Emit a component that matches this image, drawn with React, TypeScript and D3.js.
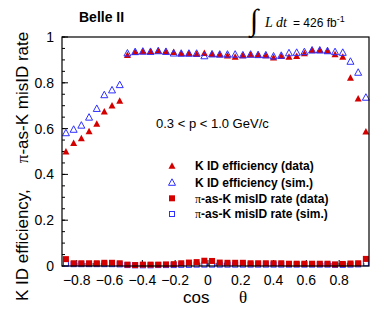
import React from "react";
import * as d3 from "d3";

const cosTheta = [
  -0.866, -0.819, -0.772, -0.725, -0.678, -0.632, -0.585, -0.538, -0.491, -0.444,
  -0.397, -0.35, -0.303, -0.256, -0.209, -0.163, -0.116, -0.069, -0.022, 0.025,
  0.072, 0.119, 0.166, 0.213, 0.26, 0.306, 0.353, 0.4, 0.447, 0.494,
  0.541, 0.588, 0.635, 0.682, 0.729, 0.775, 0.822, 0.869, 0.916, 0.963,
];

const kEffData = [
  0.5, 0.537, 0.558, 0.588, 0.621, 0.675, 0.701, 0.722, 0.921, 0.935,
  0.938, 0.937, 0.94, 0.937, 0.934, 0.929, 0.929, 0.926, 0.93, 0.926,
  0.925, 0.919, 0.914, 0.92, 0.924, 0.922, 0.92, 0.911, 0.917, 0.914,
  0.917, 0.929, 0.943, 0.943, 0.94, 0.925, 0.914, 0.822, 0.731, 0.587,
];

const kEffSim = [
  0.582, 0.597, 0.615, 0.65, 0.688, 0.748, 0.769, 0.792, 0.93, 0.936,
  0.938, 0.937, 0.94, 0.937, 0.93, 0.929, 0.929, 0.929, 0.918, 0.926,
  0.925, 0.925, 0.925, 0.922, 0.925, 0.923, 0.922, 0.917, 0.92, 0.931,
  0.933, 0.936, 0.943, 0.943, 0.94, 0.936, 0.933, 0.894, 0.846, 0.737,
];

const misIdData = [
  0.03, 0.012, 0.012, 0.012, 0.012, 0.014, 0.014, 0.012, 0.006, 0.004,
  0.006, 0.006, 0.006, 0.007, 0.008, 0.012, 0.015, 0.017, 0.023, 0.022,
  0.015, 0.014, 0.014, 0.014, 0.012, 0.012, 0.012, 0.012, 0.012, 0.01,
  0.01, 0.01, 0.01, 0.01, 0.01, 0.007, 0.009, 0.011, 0.012, 0.031,
];

const misIdSim = [
  0.01, 0.008, 0.008, 0.008, 0.008, 0.008, 0.008, 0.007, 0.004, 0.003,
  0.003, 0.003, 0.004, 0.004, 0.004, 0.005, 0.005, 0.006, 0.006, 0.006,
  0.006, 0.006, 0.006, 0.006, 0.006, 0.006, 0.006, 0.006, 0.006, 0.006,
  0.006, 0.006, 0.006, 0.006, 0.006, 0.005, 0.005, 0.006, 0.007, 0.012,
];

const xTickValues = [-0.8, -0.6, -0.4, -0.2, 0, 0.2, 0.4, 0.6, 0.8];
const xTickLabels = ["\u22120.8", "\u22120.6", "\u22120.4", "\u22120.2", "0", "0.2", "0.4", "0.6", "0.8"];
const yTickValues = [0, 0.2, 0.4, 0.6, 0.8, 1];
const yTickLabels = ["0", "0.2", "0.4", "0.6", "0.8", "1"];

const legendLabels = [
  "K ID efficiency (data)",
  "K ID efficiency (sim.)",
  "-as-K misID rate (data)",
  "-as-K misID rate (sim.)",
];

const RED = "#d40000";
const BLUE = "#2f2fff";
const SANS = "'Liberation Sans', Arial, Helvetica, sans-serif";
const SERIF = "'Liberation Serif', 'Times New Roman', serif";

function Tri({ x, y, filled }: { x: number; y: number; filled: boolean }) {
  const h = 6;
  const w = 7;
  const d = `M${x},${y - h / 2 - 0.5} L${x + w / 2},${y + h / 2} L${x - w / 2},${y + h / 2} Z`;
  return filled ? (
    <path d={d} fill={RED} />
  ) : (
    <path d={d} fill="none" stroke={BLUE} strokeWidth={1} />
  );
}

function Sq({ x, y, filled }: { x: number; y: number; filled: boolean }) {
  const s = 6;
  return filled ? (
    <rect x={x - s / 2} y={y - s / 2} width={s} height={s} fill={RED} />
  ) : (
    <rect x={x - s / 2 + 0.5} y={y - s / 2 + 0.5} width={s - 1} height={s - 1} fill="none" stroke={BLUE} strokeWidth={1} />
  );
}

export default function App() {
  const left = 62, right = 369, top = 37, bottom = 266;
  const x = d3.scaleLinear().domain([-0.89, 0.982]).range([left, right]);
  const y = d3.scaleLinear().domain([0, 1]).range([bottom, top]);

  const xMinor = d3.range(-0.85, 0.98, 0.05).map((v) => Math.round(v * 100) / 100);
  const yMinor = d3.range(0, 1.001, 0.05).map((v) => Math.round(v * 100) / 100);

  const legendX = 172;
  const legendTextX = 195;
  const legendY = [165.7, 182.3, 198.3, 214];

  return (
    <svg
      width={389}
      height={317}
      style={{ position: "absolute", left: 0, top: 0, background: "#fff" }}
    >
      <rect x={0} y={0} width={389} height={317} fill="#fff" />

      {/* minor ticks */}
      {xMinor.map((v, i) => (
        <line key={"xm" + i} x1={x(v)} x2={x(v)} y1={bottom} y2={bottom - 3} stroke="#000" strokeWidth={1} />
      ))}
      {yMinor.map((v, i) => (
        <line key={"ym" + i} x1={left} x2={left + 3} y1={y(v)} y2={y(v)} stroke="#000" strokeWidth={1} />
      ))}
      {/* major ticks */}
      {xTickValues.map((v, i) => (
        <line key={"xM" + i} x1={x(v)} x2={x(v)} y1={bottom} y2={bottom - 6} stroke="#000" strokeWidth={1} />
      ))}
      {yTickValues.map((v, i) => (
        <line key={"yM" + i} x1={left} x2={left + 6} y1={y(v)} y2={y(v)} stroke="#000" strokeWidth={1} />
      ))}

      {/* data */}
      {cosTheta.map((c, i) => (
        <Sq key={"ms" + i} x={x(c)} y={y(misIdSim[i])} filled={false} />
      ))}
      {cosTheta.map((c, i) => (
        <Sq key={"md" + i} x={x(c)} y={y(misIdData[i])} filled={true} />
      ))}
      {cosTheta.map((c, i) => (
        <Tri key={"kd" + i} x={x(c)} y={y(kEffData[i])} filled={true} />
      ))}
      {cosTheta.map((c, i) => (
        <Tri key={"ks" + i} x={x(c)} y={y(kEffSim[i])} filled={false} />
      ))}

      {/* frame */}
      <rect x={left} y={top} width={right - left} height={bottom - top} fill="none" stroke="#000" strokeWidth={1.2} />

      {/* tick labels */}
      {xTickValues.map((v, i) => (
        <text key={"xl" + i} x={x(v)} y={285} textAnchor="middle" fontFamily={SANS} fontSize={14} fill="#000">
          {xTickLabels[i]}
        </text>
      ))}
      {yTickValues.map((v, i) => (
        <text key={"yl" + i} x={54} y={y(v) + 5} textAnchor="end" fontFamily={SANS} fontSize={14} fill="#000">
          {yTickLabels[i]}
        </text>
      ))}

      {/* axis titles */}
      <text x={183} y={303} fontFamily={SANS} fontSize={17} fill="#000">
        cos
        <tspan x={239} fontFamily={SERIF}>θ</tspan>
      </text>
      <text transform="translate(27.5,301) rotate(-90)" fontFamily={SANS} fontSize={17} fill="#000">
        K ID efficiency,
        <tspan dx={26} fontFamily={SERIF}>π</tspan>
        -as-K misID rate
      </text>

      {/* annotations */}
      <text x={79} y={22} fontFamily={SANS} fontSize={14} fontWeight="bold" fill="#000">
        Belle II
      </text>
      <text x={156} y={127.5} fontFamily={SANS} fontSize={13} fill="#000">
        0.3 &lt; p &lt; 1.0 GeV/c
      </text>
      <text x={250} y={30} fontFamily={SERIF} fontSize={30} fill="#000">
        ∫
      </text>
      <text x={265} y={27} fontFamily={SERIF} fontSize={14} fontStyle="italic" fill="#000">
        L dt
      </text>
      <text x={293} y={27} fontFamily={SANS} fontSize={12} fill="#000">
        = 426 fb
        <tspan dy={-5} fontSize={9}>-1</tspan>
      </text>

      {/* legend */}
      <Tri x={legendX} y={legendY[0]} filled={true} />
      <Tri x={legendX} y={legendY[1]} filled={false} />
      <Sq x={legendX} y={legendY[2]} filled={true} />
      <Sq x={legendX} y={legendY[3]} filled={false} />
      {legendLabels.map((t, i) => (
        <text key={"lg" + i} x={legendTextX} y={legendY[i] + 4.3} fontFamily={SANS} fontSize={12} fontWeight="bold" fill="#000">
          {i >= 2 ? (
            <>
              <tspan fontFamily={SERIF} fontWeight="normal">π</tspan>
              {t}
            </>
          ) : (
            t
          )}
        </text>
      ))}
    </svg>
  );
}
